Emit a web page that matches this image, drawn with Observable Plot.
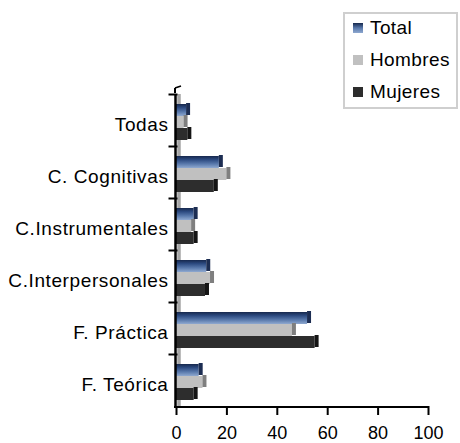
<!DOCTYPE html>
<html><head><meta charset="utf-8">
<script src="https://cdn.jsdelivr.net/npm/d3@7"></script>
<script src="https://cdn.jsdelivr.net/npm/@observablehq/plot@0.6"></script>
<style>
body{margin:0;background:#fff;}
#wrap{position:relative;width:460px;height:443px;font-family:'Liberation Sans',Arial,sans-serif;color:#000;}
#legend{position:absolute;left:343px;top:12px;width:111px;height:93px;border:2px solid #cfcfcf;background:#fff;}
.item{position:absolute;left:8px;font-size:19px;letter-spacing:0.4px;line-height:20px;height:20px;display:flex;align-items:center;white-space:nowrap;}
.sw{width:10px;height:10px;margin-right:7px;}
svg [aria-label="fy-axis tick label"] text{letter-spacing:0.6px;}
</style></head><body><div id="wrap"><div id="chart"></div><div id="legend"></div></div>
<script>
const categories = ["Todas", "C. Cognitivas", "C.Instrumentales", "C.Interpersonales", "F. Práctica", "F. Teórica"];
const seriesNames = ["Total", "Hombres", "Mujeres"];
const total   = [4, 17, 7, 12, 52, 9];
const hombres = [3, 20, 6, 13.5, 46, 10.5];
const mujeres = [4.5, 15, 7, 11.5, 55, 7];
const xTicks = [0, 20, 40, 60, 80, 100];

const seriesValues = {Total: total, Hombres: hombres, Mujeres: mujeres};
const rows = [];
categories.forEach((c, i) => seriesNames.forEach(s => rows.push({cat: c, series: s, value: seriesValues[s][i]})));

const frontFill = {Total: "url(#gTotal)", Hombres: "#c0c0c0", Mujeres: "#2d2d2d"};
const sideFill = {Total: "#1c2d52", Hombres: "#7f7f7f", Mujeres: "#151515"};
const plotW = 460 - 176 - 32;

const marks = [
  Plot.ruleX([0], {stroke: "#a6a6a6", strokeWidth: 3.5, dx: 2.5}),
];
seriesNames.forEach(s => {
  marks.push(Plot.barX(rows, {filter: d => d.series === s, fy: "cat", y: "series", x: "value", fill: frontFill[s]}));
  marks.push(Plot.barX(rows, {filter: d => d.series === s, fy: "cat", y: "series", x1: "value", x2: "value", insetLeft: 0, insetRight: -4, insetTop: -1, insetBottom: 1, fill: sideFill[s]}));
});
marks.push(
  Plot.ruleX([0], {stroke: "#000", strokeWidth: 2.5, dx: -1}),
  Plot.frame({anchor: "top", insetLeft: -7, insetRight: plotW, stroke: "#000", strokeWidth: 2}),
  Plot.axisFy({anchor: "left", tickSize: 0, tickPadding: 8, fontSize: 19, label: null, dy: 4}),
  Plot.axisX({anchor: "bottom", ticks: xTicks, tickSize: 9, tickPadding: 11, fontSize: 18, label: null, strokeWidth: 2})
);

const svg = Plot.plot({
  width: 460, height: 443,
  marginLeft: 176, marginRight: 32, marginTop: 93, marginBottom: 36,
  style: {fontFamily: "'Liberation Sans', Arial, sans-serif", fontSize: "18px", color: "#000", background: "transparent"},
  x: {domain: [0, 100]},
  y: {domain: seriesNames, axis: null, paddingInner: 0, paddingOuter: 0.62, align: 0.6},
  fy: {domain: categories, padding: 0, axis: null},
  marks
});

const ns = "http://www.w3.org/2000/svg";
const defs = document.createElementNS(ns, "defs");
const grad = document.createElementNS(ns, "linearGradient");
grad.setAttribute("id", "gTotal");
grad.setAttribute("x1", "0"); grad.setAttribute("y1", "0"); grad.setAttribute("x2", "0"); grad.setAttribute("y2", "1");
[["0", "#16284d"], ["0.3", "#2c4a80"], ["0.65", "#5878ab"], ["1", "#8fa9d0"]].forEach(([o, c]) => {
  const st = document.createElementNS(ns, "stop");
  st.setAttribute("offset", o); st.setAttribute("stop-color", c);
  grad.appendChild(st);
});
defs.appendChild(grad);
svg.insertBefore(defs, svg.firstChild);

const xs = svg.scale("x");
const x0 = xs.apply(0);
function addLine(x1, y1, x2, y2, w) {
  const l = document.createElementNS(ns, "line");
  l.setAttribute("x1", x1); l.setAttribute("x2", x2);
  l.setAttribute("y1", y1); l.setAttribute("y2", y2);
  l.setAttribute("stroke", "#000"); l.setAttribute("stroke-width", w);
  svg.appendChild(l);
}
// bottom axis line and 3D top corner of the axis wall
addLine(x0 - 2, 443 - 36, xs.apply(100) + 1, 443 - 36, 2);
addLine(x0 - 1, 93, x0 - 1, 88, 2);
addLine(x0 - 1, 88, x0 + 5, 86, 1.5);

document.getElementById("chart").appendChild(svg);

const legend = document.getElementById("legend");
const swatch = {Total: "linear-gradient(#16284d,#5878ab,#8fa9d0)", Hombres: "#c0c0c0", Mujeres: "#2d2d2d"};
seriesNames.forEach((s, i) => {
  const it = document.createElement("div");
  it.className = "item";
  it.style.top = (4 + i * 32) + "px";
  const sw = document.createElement("span");
  sw.className = "sw"; sw.style.background = swatch[s];
  const tx = document.createElement("span");
  tx.textContent = s;
  it.appendChild(sw); it.appendChild(tx);
  legend.appendChild(it);
});
</script></body></html>
